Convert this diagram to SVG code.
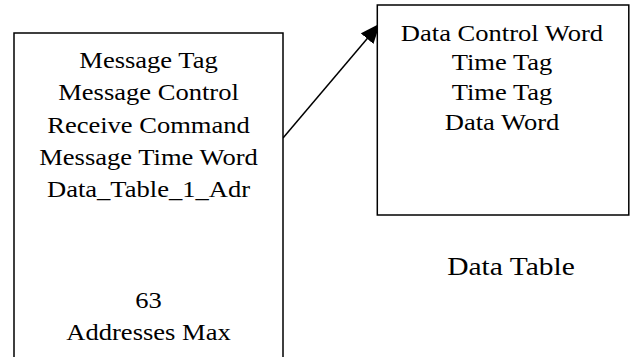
<svg xmlns="http://www.w3.org/2000/svg" width="636" height="357" viewBox="0 0 636 357">
  <style>
    .box { fill: #ffffff; stroke: #000000; stroke-width: 1.5; }
    .t { font-family: "Liberation Serif", "Times New Roman", serif; font-size: 22.5px; fill: #000000; text-anchor: middle; }
    .lbl { font-family: "Liberation Serif", "Times New Roman", serif; font-size: 25px; fill: #000000; text-anchor: middle; }
    .conn { stroke: #000000; stroke-width: 1.5; fill: none; }
  </style>
  <defs>
    <marker id="arrow" markerUnits="userSpaceOnUse" markerWidth="22" markerHeight="18" refX="20" refY="8.3" orient="auto">
      <path d="M0,0 L20,8.3 L0,16.6 z" fill="#000000"/>
    </marker>
  </defs>
  <rect x="0" y="0" width="636" height="357" fill="#ffffff"/>
  <g id="connectors">
    <line class="conn" x1="283" y1="138" x2="380" y2="23.4" marker-end="url(#arrow)"/>
  </g>
  <g id="message-block">
    <path class="box" d="M14,358 V33 H283 V358"/>
    <g transform="translate(148.5 0) scale(1.18 1)">
      <text class="t" x="0" y="68.3">Message Tag</text>
      <text class="t" x="0" y="100.5">Message Control</text>
      <text class="t" x="0" y="133">Receive Command</text>
      <text class="t" x="0" y="165">Message Time Word</text>
      <text class="t" x="0" y="196.7">Data_Table_1_Adr</text>
      <text class="t" x="0" y="308.3">63</text>
      <text class="t" x="0" y="340">Addresses Max</text>
    </g>
  </g>
  <g id="data-table">
    <rect class="box" x="377.3" y="5" width="251.5" height="210"/>
    <g transform="translate(502 0) scale(1.18 1)">
      <text class="t" x="0" y="41">Data Control Word</text>
      <text class="t" x="0" y="70.5">Time Tag</text>
      <text class="t" x="0" y="100.5">Time Tag</text>
      <text class="t" x="0" y="130">Data Word</text>
    </g>
  </g>
  <g id="data-table-label">
    <g transform="translate(511 0) scale(1.18 1)">
      <text class="lbl" x="0" y="275">Data Table</text>
    </g>
  </g>
</svg>
